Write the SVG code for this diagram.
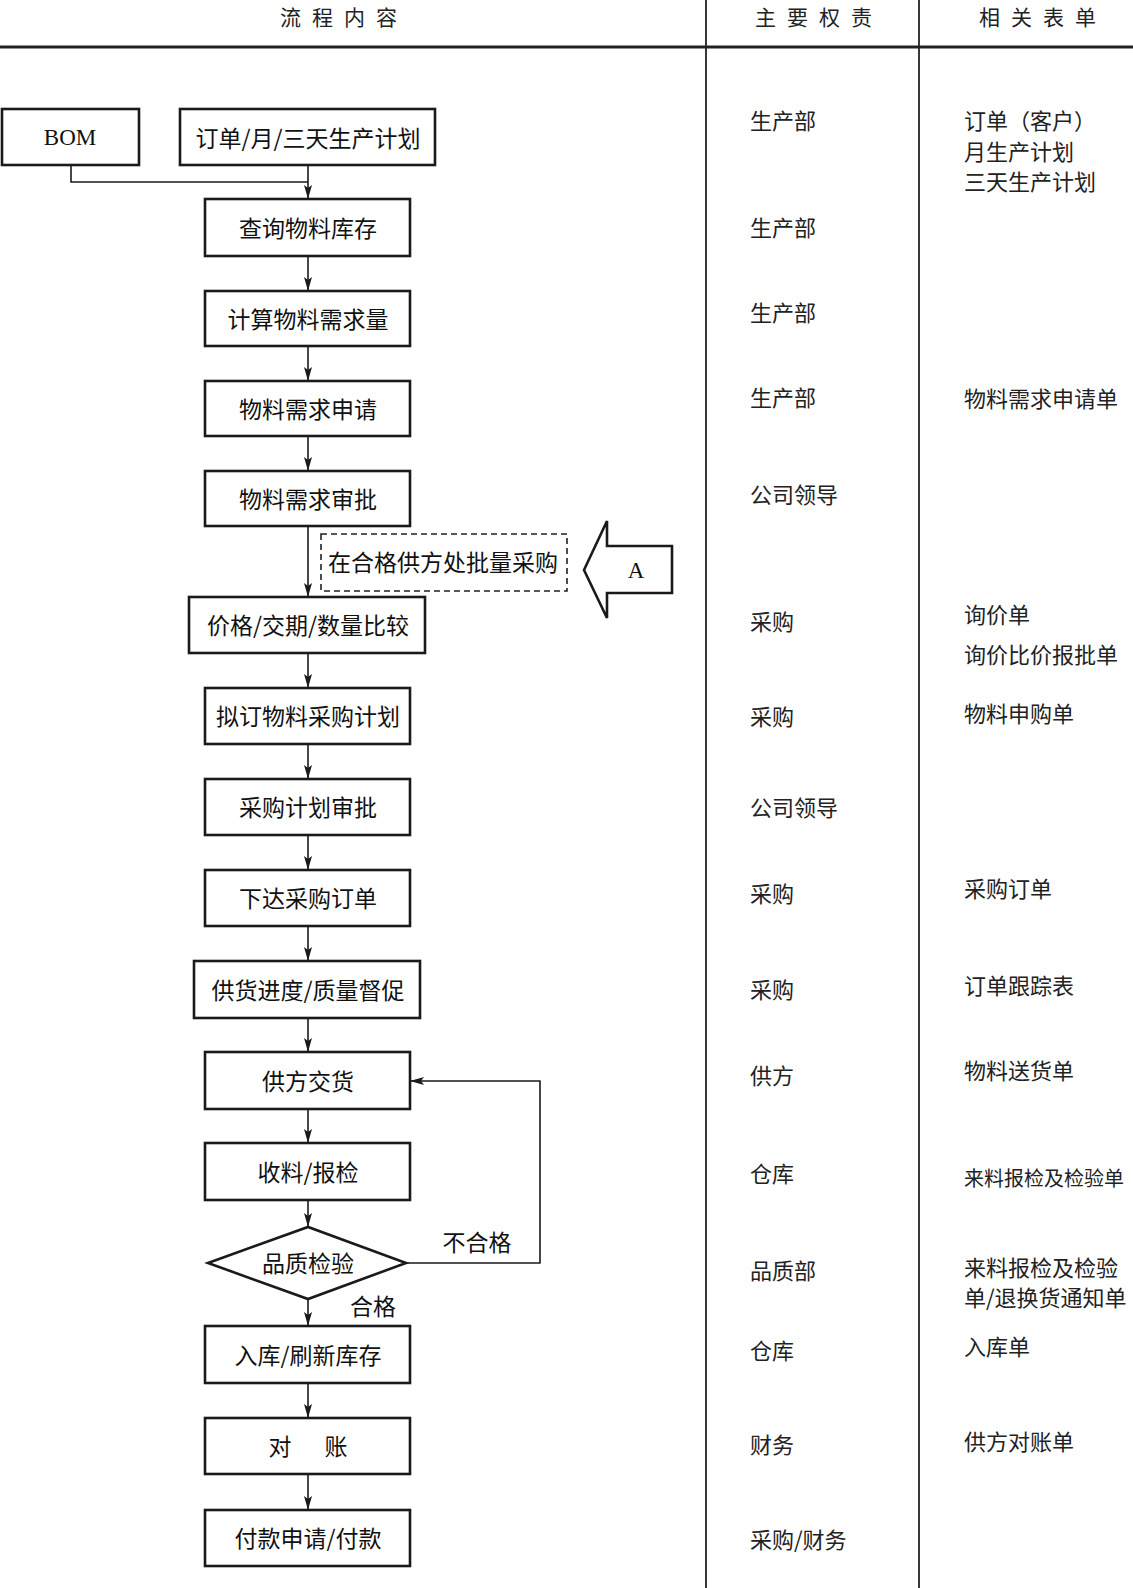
<svg xmlns="http://www.w3.org/2000/svg" width="1133" height="1588" viewBox="0 0 1133 1588">
<style>
.bx{fill:#fff;stroke:#1a1a1a;stroke-width:2.6}
.t{font-family:"Noto Sans CJK SC","Noto Sans",sans-serif;font-size:23px;fill:#111;text-anchor:middle;dominant-baseline:central}
.c{font-family:"Noto Sans CJK SC","Noto Sans",sans-serif;font-size:22px;fill:#222;dominant-baseline:central}
.h{font-family:"Noto Sans CJK SC","Noto Sans",sans-serif;font-size:21px;fill:#222;text-anchor:middle;dominant-baseline:central;letter-spacing:11px}
.ln{fill:none;stroke:#1a1a1a;stroke-width:1.6}
.sr{font-family:"Liberation Serif",serif;font-size:23px;fill:#111;text-anchor:middle;dominant-baseline:central}
</style>
<defs>
<marker id="ar" markerUnits="userSpaceOnUse" viewBox="0 0 14 8" refX="14" refY="4" markerWidth="14" markerHeight="8" orient="auto">
<path d="M0,0 L14,4 L0,8 L3,4 z" fill="#1a1a1a"/>
</marker>
</defs>
<rect x="0" y="0" width="1133" height="1588" fill="#fff"/>
<g id="table">
<line x1="0" y1="47" x2="1133" y2="47" stroke="#222" stroke-width="3"/>
<line x1="706" y1="0" x2="706" y2="1588" stroke="#222" stroke-width="1.8"/>
<line x1="919" y1="0" x2="919" y2="1588" stroke="#222" stroke-width="1.8"/>
<text class="h" x="344" y="16">流程内容</text>
<text class="h" x="819" y="16">主要权责</text>
<text class="h" x="1043" y="16">相关表单</text>
</g>
<g id="connectors">
<path class="ln" d="M71,165 V182 H308"/>
<path class="ln" d="M308,165 V199" marker-end="url(#ar)"/>
<path class="ln" d="M308,256 V291" marker-end="url(#ar)"/>
<path class="ln" d="M308,346 V381" marker-end="url(#ar)"/>
<path class="ln" d="M308,436 V471" marker-end="url(#ar)"/>
<path class="ln" d="M308,526 V597" marker-end="url(#ar)"/>
<path class="ln" d="M308,653 V688" marker-end="url(#ar)"/>
<path class="ln" d="M308,744 V779" marker-end="url(#ar)"/>
<path class="ln" d="M308,835 V870" marker-end="url(#ar)"/>
<path class="ln" d="M308,926 V961" marker-end="url(#ar)"/>
<path class="ln" d="M308,1018 V1052" marker-end="url(#ar)"/>
<path class="ln" d="M308,1109 V1143" marker-end="url(#ar)"/>
<path class="ln" d="M308,1200 V1227" marker-end="url(#ar)"/>
<path class="ln" d="M308,1299 V1326" marker-end="url(#ar)"/>
<path class="ln" d="M308,1383 V1418" marker-end="url(#ar)"/>
<path class="ln" d="M308,1474 V1510" marker-end="url(#ar)"/>
<path class="ln" d="M406,1263 H540 V1081 H410" marker-end="url(#ar)"/>
<text class="t" x="477" y="1241">不合格</text>
<text class="t" x="373" y="1305">合格</text>
</g>
<g id="n-bom"><rect class="bx" x="2" y="109" width="137" height="56"/><text class="sr" x="70" y="137">BOM</text></g>
<g id="n-order"><rect class="bx" x="180" y="109" width="255" height="56"/><text class="t" x="308" y="137">订单/月/三天生产计划</text></g>
<g id="n1"><rect class="bx" x="205" y="199" width="205" height="57"/><text class="t" x="308" y="227">查询物料库存</text></g>
<g id="n2"><rect class="bx" x="205" y="291" width="205" height="55"/><text class="t" x="308" y="318">计算物料需求量</text></g>
<g id="n3"><rect class="bx" x="205" y="381" width="205" height="55"/><text class="t" x="308" y="408">物料需求申请</text></g>
<g id="n4"><rect class="bx" x="205" y="471" width="205" height="55"/><text class="t" x="308" y="498">物料需求审批</text></g>
<g id="n-batch"><rect x="321" y="534" width="246" height="57" fill="none" stroke="#222" stroke-width="1.6" stroke-dasharray="6 4"/><text class="t" x="443" y="561">在合格供方处批量采购</text></g>
<g id="n-a"><path d="M584,570 L607,521 L607,546 L672,546 L672,593 L607,593 L607,618 Z" fill="#fff" stroke="#1a1a1a" stroke-width="2.6" stroke-linejoin="miter"/><text class="sr" x="636" y="570">A</text></g>
<g id="n5"><rect class="bx" x="189" y="597" width="236" height="56"/><text class="t" x="308" y="624">价格/交期/数量比较</text></g>
<g id="n6"><rect class="bx" x="205" y="688" width="205" height="56"/><text class="t" x="308" y="715">拟订物料采购计划</text></g>
<g id="n7"><rect class="bx" x="205" y="779" width="205" height="56"/><text class="t" x="308" y="806">采购计划审批</text></g>
<g id="n8"><rect class="bx" x="205" y="870" width="205" height="56"/><text class="t" x="308" y="897">下达采购订单</text></g>
<g id="n9"><rect class="bx" x="194" y="961" width="226" height="57"/><text class="t" x="308" y="989">供货进度/质量督促</text></g>
<g id="n10"><rect class="bx" x="205" y="1052" width="205" height="57"/><text class="t" x="308" y="1080">供方交货</text></g>
<g id="n11"><rect class="bx" x="205" y="1143" width="205" height="57"/><text class="t" x="308" y="1171">收料/报检</text></g>
<g id="n12"><path class="bx" d="M208,1263 L308,1227 L406,1263 L308,1299 Z"/><text class="t" x="308" y="1262">品质检验</text></g>
<g id="n13"><rect class="bx" x="205" y="1326" width="205" height="57"/><text class="t" x="308" y="1354">入库/刷新库存</text></g>
<g id="n14"><rect class="bx" x="205" y="1418" width="205" height="56"/><text class="t" x="308" y="1445"><tspan x="280">对</tspan><tspan x="336">账</tspan></text></g>
<g id="n15"><rect class="bx" x="205" y="1510" width="205" height="56"/><text class="t" x="308" y="1537">付款申请/付款</text></g>
<g id="col-duty">
<text class="c" x="750" y="119">生产部</text>
<text class="c" x="750" y="226">生产部</text>
<text class="c" x="750" y="311">生产部</text>
<text class="c" x="750" y="396">生产部</text>
<text class="c" x="750" y="493">公司领导</text>
<text class="c" x="750" y="620">采购</text>
<text class="c" x="750" y="715">采购</text>
<text class="c" x="750" y="806">公司领导</text>
<text class="c" x="750" y="892">采购</text>
<text class="c" x="750" y="988">采购</text>
<text class="c" x="750" y="1074">供方</text>
<text class="c" x="750" y="1172">仓库</text>
<text class="c" x="750" y="1269">品质部</text>
<text class="c" x="750" y="1349">仓库</text>
<text class="c" x="750" y="1443">财务</text>
<text class="c" x="750" y="1538">采购/财务</text>
</g>
<g id="col-forms">
<text class="c" x="964" y="119">订单（客户）</text>
<text class="c" x="964" y="150">月生产计划</text>
<text class="c" x="964" y="180">三天生产计划</text>
<text class="c" x="964" y="397">物料需求申请单</text>
<text class="c" x="964" y="613">询价单</text>
<text class="c" x="964" y="653">询价比价报批单</text>
<text class="c" x="964" y="712">物料申购单</text>
<text class="c" x="964" y="887">采购订单</text>
<text class="c" x="964" y="984">订单跟踪表</text>
<text class="c" x="964" y="1069">物料送货单</text>
<text class="c" x="964" y="1177" style="font-size:20px">来料报检及检验单</text>
<text class="c" x="964" y="1266">来料报检及检验</text>
<text class="c" x="964" y="1296">单/退换货通知单</text>
<text class="c" x="964" y="1345">入库单</text>
<text class="c" x="964" y="1440">供方对账单</text>
</g>
</svg>
